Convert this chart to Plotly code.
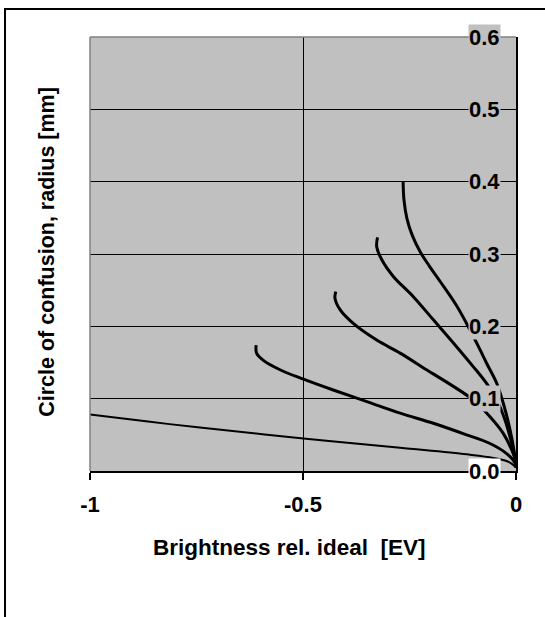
import plotly.graph_objects as go

# curves: brightness [EV] vs circle of confusion radius [mm]
x1 = [-1.0, -0.859, -0.742, -0.499, -0.272, -0.116, -0.053, -0.015, 0.0]
y1 = [0.078, 0.068, 0.060, 0.045, 0.032, 0.023, 0.018, 0.012, 0.005]

x2 = [-0.610, -0.609, -0.593, -0.554, -0.499, -0.429, -0.350, -0.272, -0.194, -0.116, -0.061, -0.022, -0.002, 0.0]
y2 = [0.174, 0.163, 0.153, 0.140, 0.127, 0.112, 0.096, 0.080, 0.066, 0.050, 0.038, 0.024, 0.011, 0.005]

x3 = [-0.423, -0.425, -0.413, -0.382, -0.327, -0.272, -0.210, -0.147, -0.100, -0.061, -0.030, -0.010, 0.0, 0.0]
y3 = [0.248, 0.239, 0.223, 0.204, 0.181, 0.163, 0.140, 0.117, 0.098, 0.075, 0.052, 0.029, 0.011, 0.005]

x4 = [-0.325, -0.327, -0.315, -0.288, -0.241, -0.194, -0.147, -0.100, -0.069, -0.045, -0.026, -0.010, 0.0, 0.0]
y4 = [0.323, 0.310, 0.292, 0.269, 0.241, 0.209, 0.177, 0.144, 0.121, 0.098, 0.071, 0.038, 0.011, 0.005]

x5 = [-0.265, -0.263, -0.256, -0.243, -0.225, -0.203, -0.178, -0.139, -0.108, -0.088, -0.069, -0.045, -0.030, -0.014, -0.003, 0.0]
y5 = [0.400, 0.375, 0.349, 0.325, 0.303, 0.283, 0.262, 0.228, 0.195, 0.172, 0.149, 0.121, 0.094, 0.057, 0.022, 0.005]

x_ticks = [-1, -0.5, 0]
x_ticktext = ['-1', '-0.5', '0']
y_ticks = [0.0, 0.1, 0.2, 0.3, 0.4, 0.5, 0.6]
y_ticktext = ['0.0', '0.1', '0.2', '0.3', '0.4', '0.5', '0.6']

FONT = 'Liberation Sans, Arial, sans-serif'

curves = [(x1, y1, 2), (x2, y2, 3), (x3, y3, 3), (x4, y4, 3), (x5, y5, 3)]
data = []
for xs, ys, w in curves:
    data.append(go.Scatter(x=xs, y=ys, mode='lines',
                           line=dict(color='black', width=w, shape='spline', smoothing=1.0),
                           showlegend=False, hoverinfo='skip'))

fig = go.Figure(data=data)

# y tick labels sit inside the plot, with a box behind them
annotations = []
for v, t in zip(y_ticks, y_ticktext):
    annotations.append(dict(x=1, y=v, xref='paper', yref='y', text='<b>%s</b>' % t,
                            showarrow=False, xanchor='right', yanchor='middle', xshift=-15,
                            bgcolor='white' if v == 0 else '#c0c0c0', borderpad=0,
                            font=dict(family=FONT, size=22, color='black')))

annotations.append(dict(x=0.469, y=-0.177, xref='paper', yref='paper',
                        text='<b>Brightness rel. ideal\u00a0 [EV]</b>', showarrow=False,
                        xanchor='center', yanchor='middle',
                        font=dict(family=FONT, size=22.5, color='black')))
annotations.append(dict(x=-0.101, y=0.505, xref='paper', yref='paper',
                        text='<b>Circle of confusion, radius [mm]</b>', showarrow=False,
                        textangle=-90, xanchor='center', yanchor='middle',
                        font=dict(family=FONT, size=21.5, color='black')))

shapes = [
    # outer frame of the chart
    dict(type='rect', xref='paper', yref='paper', x0=-0.1995, y0=-0.4, x1=1.2, y1=1.0645,
         line=dict(color='black', width=2), layer='below'),
    # grey left and top edges of the plot area
    dict(type='line', xref='paper', yref='paper', x0=0, x1=0, y0=0, y1=1,
         line=dict(color='#808080', width=1.5), layer='above'),
    dict(type='line', xref='paper', yref='paper', x0=0, x1=1, y0=1, y1=1,
         line=dict(color='#808080', width=1.5), layer='above'),
]

fig.update_layout(
    width=545, height=617,
    margin=dict(l=90, r=29, t=37, b=146),
    paper_bgcolor='white', plot_bgcolor='#c0c0c0',
    annotations=annotations, shapes=shapes,
    xaxis=dict(range=[-1, 0], tickvals=x_ticks, ticktext=x_ticktext,
               showgrid=True, gridcolor='black', gridwidth=1, zeroline=False,
               showline=True, linecolor='black', linewidth=2,
               ticks='outside', ticklen=7, tickcolor='black', tickwidth=1.5,
               ticklabelstandoff=6,
               tickfont=dict(family=FONT, size=22, color='black', weight='bold')),
    yaxis=dict(range=[0, 0.6], tickvals=y_ticks, side='right', showticklabels=False,
               showgrid=True, gridcolor='black', gridwidth=1, zeroline=False,
               showline=True, linecolor='black', linewidth=2, ticks=''),
)

# drop the default page margin so the chart starts at the window corner
fig.write_html('out.html', config={'displayModeBar': False},
               post_script="document.body.style.margin='0';")
